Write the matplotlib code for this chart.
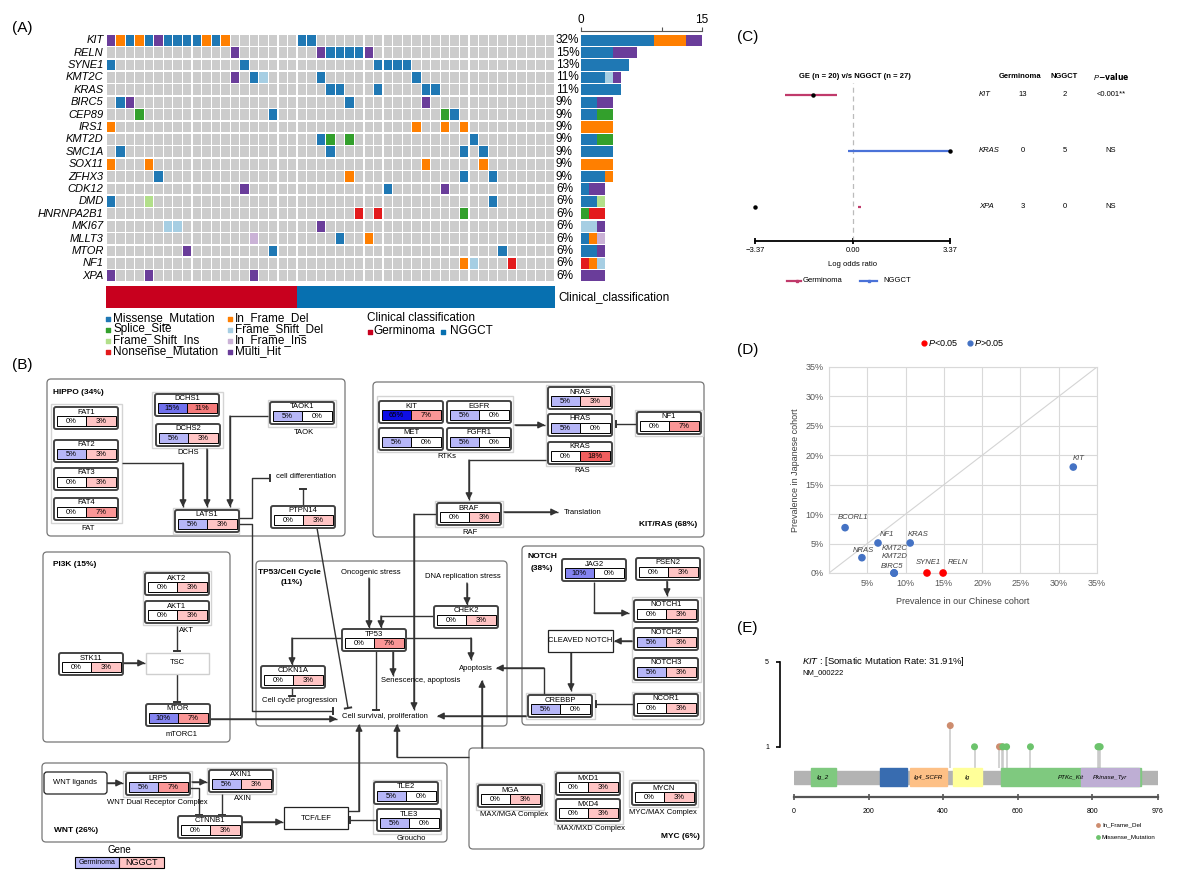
import matplotlib
matplotlib.use('Agg')
import matplotlib.pyplot as plt
import numpy as np
from matplotlib.patches import Rectangle, FancyBboxPatch

plt.rcParams['font.family'] = ['Liberation Sans', 'DejaVu Sans']
plt.rcParams['mathtext.fontset'] = 'custom'
plt.rcParams['mathtext.it'] = 'Liberation Sans:italic'
plt.rcParams['mathtext.rm'] = 'Liberation Sans'

# ===== (A) oncoplot =====
n_germ, n_nggct = 20, 27
onco_genes = ['KIT', 'RELN', 'SYNE1', 'KMT2C', 'KRAS', 'BIRC5', 'CEP89', 'IRS1', 'KMT2D', 'SMC1A',
              'SOX11', 'ZFHX3', 'CDK12', 'DMD', 'HNRNPA2B1', 'MKI67', 'MLLT3', 'MTOR', 'NF1', 'XPA']
# code + sample index (0-19 Germinoma, 20-46 NGGCT)
onco_hits = [
    'H0 D1 M2 D3 M4 H5 M6 M7 M8 M9 D10 M11 D12 M20 M21',
    'H13 H22 M23 M24 M25 M26 H27',
    'M0 M14 M28 M29 M30 M31',
    'H13 M15 F16 M22 M32',
    'M23 M24 M28 M33 M34',
    'M1 H2 M25 H33',
    'S3 M17 S35 M36',
    'D0 D32 D35 D37',
    'M22 S23 S25 M38',
    'M1 M23 M37 M39',
    'D0 D4 D33 D39',
    'M5 D25 M37 M40',
    'H14 M29 H35',
    'M0 I4 M40',
    'N26 N28 S37',
    'F6 F7 H22',
    'n15 M24 D27',
    'H8 M17 M41',
    'D37 F38 N42',
    'H0 H4 H15',
]
mut_codes = ['M', 'S', 'I', 'N', 'D', 'F', 'n', 'H']
mut_names = ['Missense_Mutation', 'Splice_Site', 'Frame_Shift_Ins', 'Nonsense_Mutation',
             'In_Frame_Del', 'Frame_Shift_Del', 'In_Frame_Ins', 'Multi_Hit']
mut_colors = ['#1F78B4', '#33A02C', '#B2DF8A', '#E31A1C', '#FF7F00', '#A6CEE3', '#CAB2D6', '#6A3D9A']
clin_colors = {'Germinoma': '#C8001E', 'NGGCT': '#0770B0'}

# ===== (B) pathways =====
path_genes = ['FAT1', 'FAT2', 'FAT3', 'FAT4', 'DCHS1', 'DCHS2', 'TAOK1', 'LATS1', 'PTPN14',
              'AKT2', 'AKT1', 'STK11', 'MTOR',
              'KIT', 'EGFR', 'MET', 'FGFR1', 'NRAS', 'HRAS', 'KRAS', 'NF1', 'BRAF',
              'CHEK2', 'TP53', 'CDKN1A',
              'JAG2', 'PSEN2', 'NOTCH1', 'NOTCH2', 'NOTCH3', 'CREBBP', 'NCOR1',
              'LRP5', 'AXIN1', 'CTNNB1', 'TLE2', 'TLE3',
              'MGA', 'MXD1', 'MXD4', 'MYCN']
path_germ = [0, 5, 0, 0, 15, 5, 5, 5, 0,
             0, 0, 0, 10,
             65, 5, 5, 5, 5, 5, 0, 0, 0,
             0, 0, 0,
             10, 0, 0, 5, 5, 5, 0,
             5, 5, 0, 5, 5,
             0, 0, 0, 0]
path_nggct = [3, 3, 3, 7, 11, 3, 0, 3, 3,
              3, 3, 3, 7,
              7, 0, 0, 0, 3, 0, 18, 7, 3,
              3, 7, 3,
              0, 3, 3, 3, 3, 0, 3,
              7, 3, 3, 0, 0,
              3, 3, 3, 3]

# ===== (C) forest =====
fg_genes = ['KIT', 'KRAS', 'XPA']
fg_lor = [-1.35, 3.37, -3.37]
fg_lo = [-2.34, -0.17, 0.20]
fg_hi = [-0.55, 3.37, 0.28]
fg_germ = [13, 0, 3]
fg_nggct = [2, 5, 0]
fg_p = ['<0.001**', 'NS', 'NS']

# ===== (D) cohort comparison =====
d_genes = ['KIT', 'BCORL1', 'NF1', 'KRAS', 'NRAS', 'KMT2C', 'KMT2D', 'BIRC5', 'SYNE1', 'RELN']
d_cn = [31.9, 2.1, 6.4, 10.6, 4.3, 8.5, 8.5, 8.5, 12.8, 14.9]
d_jp = [18.0, 7.7, 5.1, 5.1, 2.6, 0, 0, 0, 0, 0]
d_sig = [False, False, False, False, False, False, False, False, True, True]

# ===== (E) KIT lollipop =====
e_dom = ['Ig_2', '', 'Ig4_SCFR', 'Ig', 'PTKc_Kit', 'Pkinase_Tyr']
e_dom_start = [45, 230, 310, 426, 554, 770]
e_dom_end = [112, 304, 411, 505, 930, 925]
e_pos = [419, 484, 551, 557, 560, 570, 634, 815, 818, 821]
e_cnt = [2, 1, 1, 1, 1, 1, 1, 1, 1, 1]
e_type = ['In_Frame_Del', 'Missense_Mutation', 'In_Frame_Del', 'In_Frame_Del', 'Missense_Mutation',
          'Missense_Mutation', 'Missense_Mutation', 'Missense_Mutation', 'Missense_Mutation',
          'Missense_Mutation']

W, H = 1182, 880
fig = plt.figure(figsize=(W / 100, H / 100), dpi=100)


def px_axes(x0, y0, x1, y1):
    return fig.add_axes([x0 / W, 1 - y1 / H, (x1 - x0) / W, (y1 - y0) / H])


cv = fig.add_axes([0, 0, 1, 1])
cv.set_xlim(0, W)
cv.set_ylim(H, 0)
cv.axis('off')

for lab, x, y in [('(A)', 12, 28), ('(B)', 12, 365), ('(C)', 737, 37), ('(D)', 737, 350), ('(E)', 737, 628)]:
    cv.text(x, y, lab, fontsize=11, va='center')

# ---------- (A) ----------
n_s = n_germ + n_nggct
axo = px_axes(106, 34, 555, 282)
axo.set_xlim(0, n_s)
axo.set_ylim(len(onco_genes), 0)
axo.axis('off')
samples = np.arange(n_s) + 0.5
counts = []
for r, gene in enumerate(onco_genes):
    axo.bar(samples, 0.88, bottom=r + 0.06, width=0.88, color='#CCCCCC')
    cnt = dict.fromkeys(mut_codes, 0)
    for tok in onco_hits[r].split():
        code, col = tok[0], int(tok[1:])
        cnt[code] += 1
        axo.bar(col + 0.5, 0.88, bottom=r + 0.06, width=0.88,
                color=mut_colors[mut_codes.index(code)])
    counts.append(cnt)
    total = sum(cnt.values())
    axo.text(-0.25, r + 0.5, gene, ha='right', va='center', style='italic', fontsize=8)
    axo.text(n_s + 0.1, r + 0.5, f'{round(100 * total / n_s)}%', ha='left', va='center', fontsize=8.5)

axb = px_axes(581, 34, 702, 282)
axb.set_xlim(0, 15)
axb.set_ylim(len(onco_genes), 0)
for r, cnt in enumerate(counts):
    left = 0
    for code, colr in zip(mut_codes, mut_colors):
        if cnt[code]:
            axb.barh(r + 0.5, cnt[code], left=left, height=0.9, color=colr)
            left += cnt[code]
for s in ['bottom', 'left', 'right']:
    axb.spines[s].set_visible(False)
axb.spines['top'].set_position(('outward', 2))
axb.spines['top'].set_color('#555555')
axb.xaxis.tick_top()
axb.set_xticks([0, 10, 15])
axb.set_xticklabels(['0', '', '15'], fontsize=8.5)
axb.tick_params(axis='x', length=3, pad=1, color='#555555')
axb.set_yticks([])
axb.patch.set_alpha(0)

axk = px_axes(106, 286, 555, 308)
axk.set_xlim(0, n_s)
axk.set_ylim(0, 1)
axk.axis('off')
axk.bar(samples, 1, width=1.0,
        color=[clin_colors['Germinoma']] * n_germ + [clin_colors['NGGCT']] * n_nggct)
cv.text(558, 297, 'Clinical_classification', fontsize=8.5, va='center')

for i, (name, colr) in enumerate(zip(mut_names, mut_colors)):
    x = 108 if i < 4 else 230
    y = 318 + 11 * (i % 4)
    cv.scatter([x], [y + 1], marker='s', s=7, color=colr)
    cv.text(x + 5, y, name, fontsize=8.5, va='center')
cv.text(367, 318, 'Clinical classification', fontsize=8.5, va='center')
cv.scatter([370], [332], marker='s', s=7, color=clin_colors['Germinoma'])
cv.text(373, 331, 'Germinoma', fontsize=8.5, va='center')
cv.scatter([443], [332], marker='s', s=7, color=clin_colors['NGGCT'])
cv.text(450, 331, 'NGGCT', fontsize=8.5, va='center')

# ---------- (B) ----------
box_xy = {'FAT1': (54, 407), 'FAT2': (54, 440), 'FAT3': (54, 468), 'FAT4': (54, 498),
          'DCHS1': (155, 394), 'DCHS2': (156, 424), 'TAOK1': (270, 402), 'LATS1': (175, 510),
          'PTPN14': (271, 506), 'AKT2': (145, 573), 'AKT1': (145, 601), 'STK11': (59, 653),
          'MTOR': (146, 704), 'KIT': (379, 401), 'EGFR': (447, 401), 'MET': (379, 428),
          'FGFR1': (447, 428), 'NRAS': (548, 387), 'HRAS': (548, 414), 'KRAS': (548, 442),
          'NF1': (637, 412), 'BRAF': (437, 503), 'CHEK2': (434, 606), 'TP53': (342, 629),
          'CDKN1A': (261, 666), 'JAG2': (562, 559), 'PSEN2': (636, 558), 'NOTCH1': (634, 600),
          'NOTCH2': (634, 628), 'NOTCH3': (634, 658), 'CREBBP': (528, 695), 'NCOR1': (634, 694),
          'LRP5': (126, 773), 'AXIN1': (209, 770), 'CTNNB1': (178, 816), 'TLE2': (374, 782),
          'TLE3': (377, 809), 'MGA': (478, 785), 'MXD1': (556, 773), 'MXD4': (556, 799),
          'MYCN': (632, 783)}

pathway_frames = [(47, 379, 345, 536), (43, 552, 230, 742), (256, 561, 507, 726),
                  (373, 382, 704, 537), (522, 546, 704, 725), (42, 763, 447, 842),
                  (469, 748, 704, 849)]
group_frames = [(51, 404, 122, 523), (152, 392, 223, 448), (268, 400, 336, 427),
                (173, 508, 239, 534), (143, 571, 211, 625), (377, 396, 513, 452),
                (546, 385, 614, 466), (635, 410, 703, 436), (435, 501, 503, 527),
                (632, 597, 701, 682), (526, 693, 595, 719), (632, 692, 700, 719),
                (123, 771, 192, 797), (207, 768, 276, 794), (373, 780, 441, 834),
                (476, 783, 544, 810), (554, 771, 623, 824), (629, 780, 698, 807)]

for x0, y0, x1, y1 in pathway_frames:
    cv.add_patch(FancyBboxPatch((x0, y0), x1 - x0, y1 - y0,
                                boxstyle='round,pad=0,rounding_size=4',
                                fc='white', ec='#777777', lw=0.9, zorder=1))
for x0, y0, x1, y1 in group_frames:
    cv.add_patch(Rectangle((x0, y0), x1 - x0, y1 - y0, fc='white', ec='#D4D4D4', lw=1.0, zorder=2))

LINK = '#333333'


def link(pts, end='arrow'):
    xs, ys = zip(*pts)
    cv.plot(xs, ys, color=LINK, lw=1.0, zorder=2.5, solid_capstyle='butt')
    (xa, ya), (xb, yb) = pts[-2], pts[-1]
    if end == 'arrow':
        cv.annotate('', xy=(xb, yb), xytext=(xa, ya), zorder=2.5,
                    arrowprops=dict(arrowstyle='-|>,head_length=0.4,head_width=0.2',
                                    color=LINK, lw=1.0, shrinkA=0, shrinkB=0))
    else:
        d = np.array([xb - xa, yb - ya], float)
        d /= np.hypot(*d)
        p = np.array([-d[1], d[0]]) * 3.2
        cv.plot([xb - p[0], xb + p[0]], [yb - p[1], yb + p[1]], color=LINK, lw=1.4, zorder=2.5)


links = [
    ([(122, 463), (183, 463), (183, 507)], 'arrow'),
    ([(207, 449), (207, 507)], 'arrow'),
    ([(268, 416), (230, 416), (230, 507)], 'arrow'),
    ([(239, 518), (252, 518), (252, 478), (270, 478)], 'bar'),
    ([(303, 506), (303, 489)], 'bar'),
    ([(239, 524), (252, 524), (252, 711), (333, 711)], 'bar'),
    ([(317, 528), (348, 708)], 'bar'),
    ([(177, 626), (177, 651)], 'bar'),
    ([(123, 663), (145, 663)], 'arrow'),
    ([(177, 674), (177, 702)], 'bar'),
    ([(210, 719), (337, 719)], 'arrow'),
    ([(369, 578), (369, 628)], 'arrow'),
    ([(467, 583), (467, 605)], 'arrow'),
    ([(434, 616), (381, 616), (381, 628)], 'arrow'),
    ([(342, 638), (292, 638), (292, 665)], 'arrow'),
    ([(405, 638), (471, 638), (471, 660)], 'arrow'),
    ([(393, 651), (393, 676)], 'arrow'),
    ([(376, 651), (376, 710)], 'bar'),
    ([(292, 688), (292, 696)], 'bar'),
    ([(515, 425), (545, 425)], 'arrow'),
    ([(637, 424), (616, 424)], 'bar'),
    ([(546, 460), (469, 460), (469, 500)], 'arrow'),
    ([(504, 512), (558, 512)], 'arrow'),
    ([(437, 514), (414, 514), (414, 710)], 'arrow'),
    ([(594, 582), (594, 613), (629, 613)], 'arrow'),
    ([(667, 581), (667, 596)], 'arrow'),
    ([(632, 641), (614, 641)], 'arrow'),
    ([(571, 652), (571, 691)], 'arrow'),
    ([(634, 704), (596, 704)], 'bar'),
    ([(526, 716), (437, 716)], 'arrow'),
    ([(544, 695), (544, 668), (496, 668)], 'arrow'),
    ([(107, 783), (123, 783)], 'arrow'),
    ([(192, 782), (207, 782)], 'arrow'),
    ([(190, 788), (199, 788), (199, 815)], 'bar'),
    ([(222, 794), (222, 815)], 'bar'),
    ([(241, 822), (283, 822)], 'arrow'),
    ([(377, 820), (350, 820)], 'bar'),
    ([(348, 811), (359, 811), (359, 724)], 'arrow'),
    ([(469, 757), (397, 757), (397, 724)], 'arrow'),
    ([(482, 748), (482, 680)], 'arrow'),
]
for pts, end in links:
    link(pts, end)


def blue_col(p):
    nodes = [0, 5, 10, 15, 65]
    rgb = np.array([[255, 255, 255], [182, 182, 247], [132, 132, 240], [112, 112, 236], [14, 14, 228]])
    return tuple(np.interp(p, nodes, rgb[:, k]) / 255 for k in range(3))


def red_col(p):
    nodes = [0, 3, 7, 11, 18]
    rgb = np.array([[255, 255, 255], [255, 196, 196], [250, 150, 150], [244, 122, 122], [240, 94, 94]])
    return tuple(np.interp(p, nodes, rgb[:, k]) / 255 for k in range(3))


def gene_box(name, g, n, x, y, w=64, h=22):
    cv.add_patch(FancyBboxPatch((x, y), w, h, boxstyle='round,pad=0,rounding_size=2',
                                fc='white', ec='#444444', lw=1.4, zorder=3))
    cv.text(x + w / 2, y + 5, name, ha='center', va='center', fontsize=5.5, zorder=4)
    c0, c1 = y + 9.5, y + h - 2.5
    xm = x + w / 2
    cv.add_patch(Rectangle((x + 2.5, c0), xm - x - 2.5, c1 - c0, fc=blue_col(g), ec='black', lw=0.7, zorder=3.5))
    cv.add_patch(Rectangle((xm, c0), x + w - 2.5 - xm, c1 - c0, fc=red_col(n), ec='black', lw=0.7, zorder=3.5))
    cv.text((x + 2.5 + xm) / 2, (c0 + c1) / 2, f'{g}%', ha='center', va='center', fontsize=5.5, zorder=4)
    cv.text((xm + x + w - 2.5) / 2, (c0 + c1) / 2, f'{n}%', ha='center', va='center', fontsize=5.5, zorder=4)


for gname, g, n in zip(path_genes, path_germ, path_nggct):
    gene_box(gname, g, n, *box_xy[gname])

# plain nodes
cv.add_patch(Rectangle((146, 653), 63, 21, fc='white', ec='#CFCFCF', lw=1.0, zorder=3))
cv.add_patch(Rectangle((548, 630), 65, 22, fc='white', ec='#222222', lw=0.9, zorder=3))
cv.add_patch(FancyBboxPatch((44, 772), 63, 22, boxstyle='round,pad=0,rounding_size=3',
                            fc='white', ec='#222222', lw=0.9, zorder=3))
cv.add_patch(Rectangle((284, 807), 64, 22, fc='white', ec='#222222', lw=0.9, zorder=3))

path_texts = [
    (53, 392, 'HIPPO (34%)', 'left', 'bold'), (88, 528, 'FAT', 'center', 'normal'),
    (188, 453, 'DCHS', 'center', 'normal'), (304, 432, 'TAOK', 'center', 'normal'),
    (276, 476, 'cell differentiation', 'left', 'normal'),
    (53, 564, 'PI3K (15%)', 'left', 'bold'), (179, 631, 'AKT', 'left', 'normal'),
    (177, 663, 'TSC', 'center', 'normal'), (182, 734, 'mTORC1', 'center', 'normal'),
    (258, 572, 'TP53/Cell Cycle', 'left', 'bold'), (292, 583, '(11%)', 'center', 'bold'),
    (371, 572, 'Oncogenic stress', 'center', 'normal'),
    (463, 577, 'DNA replication stress', 'center', 'normal'),
    (300, 701, 'Cell cycle progression', 'center', 'normal'),
    (421, 681, 'Senescence, apoptosis', 'center', 'normal'),
    (476, 668, 'Apoptosis', 'center', 'normal'),
    (385, 717, 'Cell survival, proliferation', 'center', 'normal'),
    (447, 457, 'RTKs', 'center', 'normal'), (582, 471, 'RAS', 'center', 'normal'),
    (470, 532, 'RAF', 'center', 'normal'), (564, 512, 'Translation', 'left', 'normal'),
    (697, 524, 'KIT/RAS (68%)', 'right', 'bold'),
    (527, 557, 'NOTCH', 'left', 'bold'), (542, 568, '(38%)', 'center', 'bold'),
    (580, 641, 'CLEAVED NOTCH', 'center', 'normal'),
    (75, 783, 'WNT ligands', 'center', 'normal'),
    (157, 802, 'WNT Dual Receptor Complex', 'center', 'normal'),
    (243, 799, 'AXIN', 'center', 'normal'), (316, 818, 'TCF/LEF', 'center', 'normal'),
    (411, 838, 'Groucho', 'center', 'normal'), (54, 830, 'WNT (26%)', 'left', 'bold'),
    (514, 814, 'MAX/MGA Complex', 'center', 'normal'),
    (591, 828, 'MAX/MXD Complex', 'center', 'normal'),
    (663, 813, 'MYC/MAX Complex', 'center', 'normal'),
    (700, 837, 'MYC (6%)', 'right', 'bold'),
]
for x, y, t, ha, wt in path_texts:
    cv.text(x, y, t, ha=ha, va='center', fontsize=6 if wt == 'bold' else 5.5,
            fontweight=wt, zorder=4)

cv.text(119, 850, 'Gene', ha='center', va='center', fontsize=7)
cv.add_patch(Rectangle((75, 857), 44, 11, fc=blue_col(5), ec='black', lw=0.8))
cv.add_patch(Rectangle((119, 857), 45, 11, fc=red_col(3), ec='black', lw=0.8))
cv.text(97, 862.5, 'Germinoma', ha='center', va='center', fontsize=5)
cv.text(141.5, 862.5, 'NGGCT', ha='center', va='center', fontsize=6.5)

# ---------- (C) ----------
axc = px_axes(755, 83, 950, 241)
axc.set_xlim(-3.37, 3.37)
axc.set_ylim(2.62, -0.22)
axc.patch.set_alpha(0)
for s in ['top', 'right', 'left']:
    axc.spines[s].set_visible(False)
axc.spines['bottom'].set_linewidth(1.3)
axc.set_xticks([-3.37, 0, 3.37])
axc.set_xticklabels(['\u22123.37', '0.00', '3.37'], fontsize=5.5)
axc.tick_params(axis='x', length=5, width=1.3, direction='inout', pad=2)
axc.set_yticks([])
axc.axvline(0, color='#BBBBBB', ls=(0, (4, 3)), lw=0.9)
axc.set_xlabel('Log odds ratio', fontsize=5.5, labelpad=5)
fg_cols = ['#C03A6B' if v < 0 else '#4A72D8' for v in fg_lor]
for i, (lor, lo, hi, colr) in enumerate(zip(fg_lor, fg_lo, fg_hi, fg_cols)):
    axc.plot([lo, hi], [i, i], color=colr, lw=1.6, solid_capstyle='butt', clip_on=False)
    axc.plot([lor], [i], 'o', color='black', ms=2.2, clip_on=False)

cv.text(855, 77, 'GE (n = 20) v/s NGGCT (n = 27)', ha='center', va='center', fontsize=5.5, fontweight='bold')
cv.text(1020, 77, 'Germinoma', ha='center', va='center', fontsize=5.5, fontweight='bold')
cv.text(1064, 77, 'NGGCT', ha='center', va='center', fontsize=5.5, fontweight='bold')
cv.text(1111, 77, r'$\it{P}$$\bf{-value}$', ha='center', va='center', fontsize=5.5)
for i, g in enumerate(fg_genes):
    y = 95 + 55.6 * i
    cv.text(979, y, g, ha='left', va='center', fontsize=5.5, style='italic')
    cv.text(1023, y, str(fg_germ[i]), ha='center', va='center', fontsize=5.5)
    cv.text(1065, y, str(fg_nggct[i]), ha='center', va='center', fontsize=5.5)
    cv.text(1111, y, fg_p[i], ha='center', va='center', fontsize=5.5)
cv.plot([787, 801], [281, 281], color='#C03A6B', lw=1.6)
cv.plot([797], [281], 's', color='#C03A6B', ms=2)
cv.text(803, 281, 'Germinoma', va='center', fontsize=5.5)
cv.plot([860, 877], [281, 281], color='#4A72D8', lw=1.6)
cv.plot([869], [281], 's', color='#4A72D8', ms=2)
cv.text(883, 281, 'NGGCT', va='center', fontsize=5.5)

# ---------- (D) ----------
axd = px_axes(829, 367, 1097, 573)
axd.set_xlim(0, 35)
axd.set_ylim(0, 35)
axd.set_xticks(range(0, 36, 5))
axd.set_xticklabels([''] + [f'{v}%' for v in range(5, 36, 5)])
axd.set_yticks(range(0, 36, 5))
axd.set_yticklabels([f'{v}%' for v in range(0, 36, 5)])
axd.grid(True, color='#D9D9D9', lw=0.8)
axd.set_axisbelow(True)
for s in axd.spines.values():
    s.set_color('#D9D9D9')
axd.tick_params(length=0, labelsize=6.5, labelcolor='#595959', pad=4)
axd.plot([0, 35], [0, 35], color='#D4D4D4', lw=0.8, zorder=1)
axd.scatter(d_cn, d_jp, s=20, c=['#FF0000' if s else '#4472C4' for s in d_sig],
            zorder=3, clip_on=False)
d_off = {'KIT': (5, 9), 'BCORL1': (8, 10), 'NF1': (9, 8), 'KRAS': (8, 8), 'NRAS': (1, 7),
         'KMT2C': (1, 25), 'KMT2D': (1, 16), 'BIRC5': (-2, 6), 'SYNE1': (1, 11), 'RELN': (15, 11)}
for g, x, y in zip(d_genes, d_cn, d_jp):
    axd.annotate(g, (x, y), xytext=d_off[g], textcoords='offset pixels', ha='center',
                 va='center', fontsize=5.5, style='italic', color='#404040')
axd.set_xlabel('Prevalence in our Chinese cohort', fontsize=6.5, color='#404040', labelpad=7)
axd.set_ylabel('Prevalence in Japanese cohort', fontsize=6.5, color='#404040', labelpad=4)
cv.scatter([924], [343], s=12, color='#FF0000')
cv.text(928, 343, r'$\it{P}$<0.05', va='center', fontsize=6.5)
cv.scatter([970], [343], s=12, color='#4472C4')
cv.text(974, 343, r'$\it{P}$>0.05', va='center', fontsize=6.5)

# ---------- (E) ----------
axe = px_axes(794, 655, 1158, 797)
axe.set_xlim(0, 976)
axe.set_ylim(-1.37, 5.33)
axe.patch.set_alpha(0)
axe.add_patch(Rectangle((0, -0.75), 976, 0.62, color='#B3B3B3', zorder=1))
dom_cols = ['#7FC97F', '#386CB0', '#FDC086', '#FFFF99', '#7FC97F', '#BEAED4']
for name, s0, s1, colr in zip(e_dom, e_dom_start, e_dom_end, dom_cols):
    axe.add_patch(Rectangle((s0, -0.86), s1 - s0, 0.84, color=colr, zorder=2))
for name, s0, s1 in zip(e_dom, e_dom_start, e_dom_end):
    if name:
        xc = (s0 + s1) / 2 if name != 'PTKc_Kit' else 742
        axe.text(xc, -0.44, name, ha='center', va='center', fontsize=4.5, style='italic', zorder=3)
type_col = {'In_Frame_Del': '#CD8C6E', 'Missense_Mutation': '#6CC36C'}
axe.vlines(e_pos, 0, e_cnt, color='#C8C8C8', lw=1.1, zorder=1.5)
axe.scatter(e_pos, e_cnt, s=16, c=[type_col[t] for t in e_type], zorder=4, clip_on=False)
for s in ['top', 'right']:
    axe.spines[s].set_visible(False)
axe.spines['left'].set_position(('outward', 10))
axe.spines['left'].set_bounds(1, 5)
axe.spines['left'].set_linewidth(1.2)
axe.set_yticks([1, 5])
axe.set_yticklabels(['1', '5'], fontsize=5)
axe.tick_params(axis='y', length=3, width=1.2, pad=5)
axe.spines['bottom'].set_bounds(0, 976)
axe.spines['bottom'].set_linewidth(1.6)
axe.spines['bottom'].set_color('#555555')
axe.set_xticks([0, 200, 400, 600, 800, 976])
axe.set_xticklabels(['0', '200', '400', '600', '800', '976'], fontsize=5)
axe.tick_params(axis='x', length=4, width=1.2, direction='inout', color='#555555', pad=6)
cv.text(802, 662, r'$\it{KIT}$ : [Somatic Mutation Rate: 31.91%]', va='center', fontsize=6.8)
cv.text(802, 673, 'NM_000222', va='center', fontsize=5.5)
cv.scatter([1098], [825], s=6, color=type_col['In_Frame_Del'])
cv.text(1102, 825, 'In_Frame_Del', va='center', fontsize=4.5)
cv.scatter([1098], [837], s=6, color=type_col['Missense_Mutation'])
cv.text(1102, 837, 'Missense_Mutation', va='center', fontsize=4.5)

plt.savefig('out.png', dpi=100)
print('Saved: out.png')
